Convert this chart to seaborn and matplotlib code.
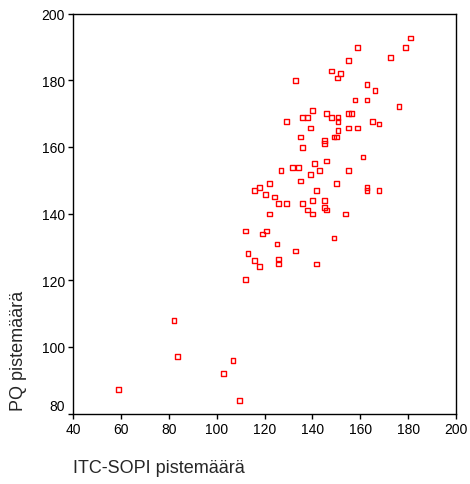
import matplotlib
matplotlib.use("Agg")
import matplotlib.pyplot as plt
import pandas as pd
import seaborn as sns

# ITC-SOPI vs PQ scores
itc_sopi = [
    181.1, 158.9, 178.8, 172.7, 155.0, 147.9, 151.8, 150.6, 132.9, 162.8,
    166.1, 157.8, 162.8, 176.2, 140.1, 135.7, 137.9, 145.7, 147.9, 150.7,
    150.7, 155.0, 156.4, 129.0, 165.1, 167.8, 139.0, 150.7, 155.0, 158.9,
    135.1, 145.1, 145.1, 149.0, 150.2, 135.7, 161.1, 145.7, 140.7, 126.8,
    131.8, 134.0, 142.9, 155.0, 139.0, 135.1, 121.9, 118.0, 115.8, 120.2,
    141.8, 150.2, 162.8, 162.8, 167.8, 124.1, 125.8, 129.0, 135.7, 140.1,
    145.1, 145.1, 145.7, 137.9, 140.1, 121.9, 153.9, 112.0, 120.8, 119.1,
    149.0, 125.2, 132.9, 113.0, 115.8, 125.8, 125.8, 118.0, 141.8, 112.0,
    82.1, 83.7, 106.8, 102.9, 58.8, 109.6,
]
pq = [
    192.7, 189.9, 189.9, 186.8, 186.0, 182.8, 182.0, 180.7, 180.0, 178.8,
    176.9, 174.1, 174.1, 172.1, 170.9, 168.9, 168.9, 170.1, 168.9, 168.9,
    167.6, 170.1, 170.1, 167.7, 167.7, 166.9, 165.7, 164.9, 165.7, 165.7,
    163.0, 161.9, 161.0, 163.0, 163.0, 159.8, 157.0, 155.8, 155.0, 153.0,
    153.8, 153.8, 153.0, 153.0, 151.8, 149.8, 149.0, 147.8, 147.0, 145.8,
    147.0, 149.0, 147.8, 147.0, 147.0, 145.0, 143.1, 143.1, 143.1, 143.9,
    143.9, 141.9, 141.1, 141.1, 139.9, 139.9, 139.9, 134.8, 134.8, 133.9,
    132.7, 130.9, 128.8, 128.0, 125.9, 126.4, 124.9, 124.1, 124.9, 120.1,
    107.8, 97.1, 95.9, 91.9, 87.1, 84.0,
]

x_ticks = [40, 60, 80, 100, 120, 140, 160, 180, 200]
y_ticks = [80, 100, 120, 140, 160, 180, 200]

x_label = "ITC-SOPI pistemäärä"
y_label = "PQ pistemäärä"

sns.set_style("ticks", {"axes.edgecolor": "black", "xtick.color": "black",
                        "ytick.color": "black"})
plt.rcParams["font.family"] = ["Liberation Sans", "DejaVu Sans"]
plt.rcParams["axes.linewidth"] = 1.0
plt.rcParams["xtick.major.size"] = 3.5
plt.rcParams["ytick.major.size"] = 3.5
plt.rcParams["xtick.major.width"] = 1.0
plt.rcParams["ytick.major.width"] = 1.0

df = pd.DataFrame({x_label: itc_sopi, y_label: pq})

fig = plt.figure(figsize=(4.7, 4.85), dpi=100)
ax = fig.add_axes([73.3 / 470, 1 - 414.5 / 485, (456 - 73.3) / 470, (414.5 - 14.7) / 485])

sns.scatterplot(data=df, x=x_label, y=y_label, marker="s", s=12,
                color="red", facecolor="none", edgecolor="red",
                linewidth=1.0, ax=ax)

ax.set_xlim(40, 200)
ax.set_ylim(80, 200)
ax.set_xticks(x_ticks)
ax.set_yticks(y_ticks)
ax.tick_params(labelsize=10, pad=2.5, colors="black")
ax.get_yticklabels()[0].set_verticalalignment("bottom")

ax.set_xlabel(x_label, fontsize=13, loc="left")
ax.xaxis.set_label_coords(0, -0.115)
ax.set_ylabel(y_label, fontsize=13, loc="bottom")
ax.yaxis.set_label_coords(-0.12, 0.01)

for side in ["top", "right", "bottom", "left"]:
    ax.spines[side].set_visible(True)
    ax.spines[side].set_color("black")

fig.savefig("out.png", dpi=100)
